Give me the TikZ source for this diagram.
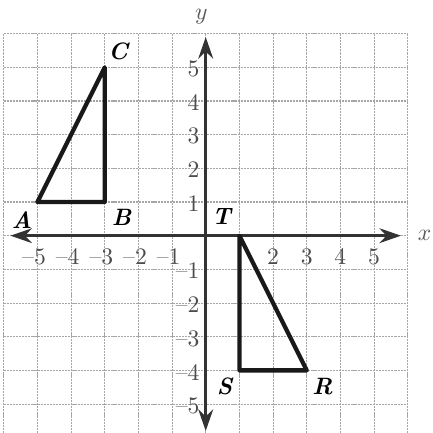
\documentclass[tikz,border=0pt]{standalone}
\usepackage{amsmath,amssymb}
\usepackage{tikz}
\usetikzlibrary{arrows.meta,positioning}
\tikzset{
  gridln/.style ={draw=black!35,line width=0.45pt,dash pattern=on 0.9pt off 0.4pt},
  axis/.style   ={<->,draw=black!80,line width=1.1pt},
  tri/.style    ={draw=black!90,line width=1.8pt,line join=round},
  tick/.style   ={font=\normalsize,text=black!70,inner sep=1pt},
  plab/.style   ={font=\normalsize\bfseries\itshape,inner sep=1pt},
  alab/.style   ={font=\normalsize,text=black!65,inner sep=1pt},
}

\begin{document}
\begin{tikzpicture}[
  x=5mm, y=5mm,
  >={Stealth[length=3.2mm,width=2.2mm]},
]
\useasboundingbox (-6.11,-5.86) rectangle (6.73,7.0);
%% grid
\draw[gridln,step=5mm] (-6,-5.86) grid (6,6);
%% axes
\coordinate (xl) at (-5.8,0);
\coordinate (xr) at (5.8,0);
\coordinate (yt) at (0,5.9);
\coordinate (yb) at (0,-5.8);
\draw[axis] (xl) -- (xr);
\draw[axis] (yb) -- (yt);
\node[alab] (xname) at (6.5,0) {$x$};
\node[alab] (yname) at (-0.13,6.5) {$y$};
%% tick labels
\foreach \i in {-5,-4,-3,-2,-1}{%
  \node[tick,anchor=north] (xt\i) at (\i-0.1,-0.3) {--\number-\i};
}
\foreach \i in {2,3,4,5}{%
  \node[tick,anchor=north] (xt\i) at (\i,-0.3) {\i};
}
\foreach \i in {1,...,5}{%
  \node[tick,anchor=east] (yt\i) at (-0.1,\i-0.05) {\i};
}
\foreach \i in {-5,...,-1}{%
  \node[tick,anchor=east] (yt\i) at (-0.1,\i-0.05) {--\number-\i};
}
%% triangle ABC
\coordinate (A) at (-5,1);
\coordinate (B) at (-3,1);
\coordinate (C) at (-3,5);
\draw[tri] (A) -- (B) -- (C) -- cycle;
\node[plab] (la) at (-5.46,0.47) {A};
\node[plab] (lb) at (-2.5,0.53) {B};
\node[plab] (lc) at (-2.6,5.47) {C};
%% triangle TSR
\coordinate (T) at (1,0);
\coordinate (S) at (1,-4);
\coordinate (R) at (3,-4);
\draw[tri] (T) -- (S) -- (R) -- cycle;
\node[plab] (lt) at (0.47,0.56) {T};
\node[plab] (ls) at (0.56,-4.47) {S};
\node[plab] (lr) at (3.47,-4.47) {R};
\end{tikzpicture}
\end{document}
